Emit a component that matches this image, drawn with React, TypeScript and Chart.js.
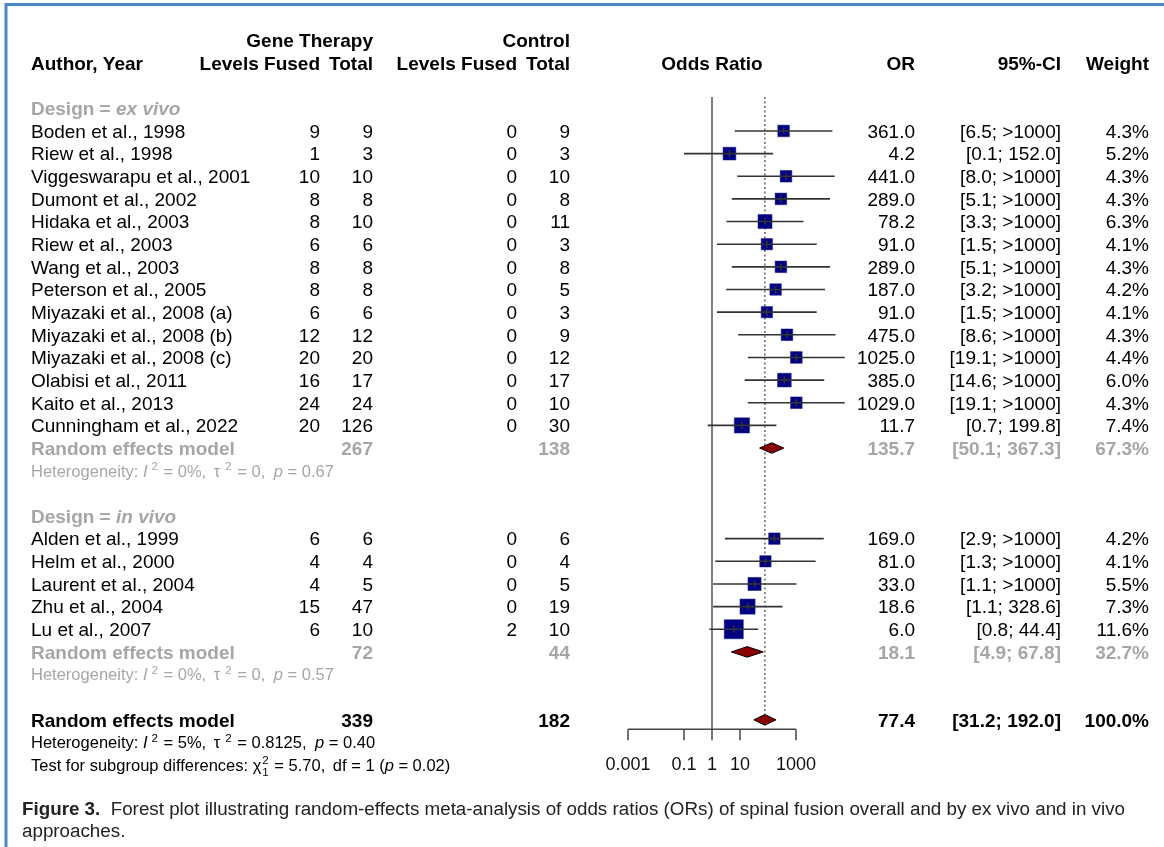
import React, { useEffect, useRef } from 'react';
import { Chart, registerables } from 'chart.js';

Chart.register(...registerables);

// ---- ex vivo studies ----
const exVivoAuthors = [
  'Boden et al., 1998',
  'Riew et al., 1998',
  'Viggeswarapu et al., 2001',
  'Dumont et al., 2002',
  'Hidaka et al., 2003',
  'Riew et al., 2003',
  'Wang et al., 2003',
  'Peterson et al., 2005',
  'Miyazaki et al., 2008 (a)',
  'Miyazaki et al., 2008 (b)',
  'Miyazaki et al., 2008 (c)',
  'Olabisi et al., 2011',
  'Kaito et al., 2013',
  'Cunningham et al., 2022',
];
const exVivoGeneFused = [9, 1, 10, 8, 8, 6, 8, 8, 6, 12, 20, 16, 24, 20];
const exVivoGeneTotal = [9, 3, 10, 8, 10, 6, 8, 8, 6, 12, 20, 17, 24, 126];
const exVivoCtrlFused = [0, 0, 0, 0, 0, 0, 0, 0, 0, 0, 0, 0, 0, 0];
const exVivoCtrlTotal = [9, 3, 10, 8, 11, 3, 8, 5, 3, 9, 12, 17, 10, 30];
const exVivoOR = [361.0, 4.2, 441.0, 289.0, 78.2, 91.0, 289.0, 187.0, 91.0, 475.0, 1025.0, 385.0, 1029.0, 11.7];
const exVivoLower = [6.5, 0.1, 8.0, 5.1, 3.3, 1.5, 5.1, 3.2, 1.5, 8.6, 19.1, 14.6, 19.1, 0.7];
const exVivoUpper = [20000, 152.0, 24000, 16400, 1850, 5500, 16400, 10900, 5500, 26000, 55000, 10200, 55000, 199.8];
const exVivoWeight = [4.3, 5.2, 4.3, 4.3, 6.3, 4.1, 4.3, 4.2, 4.1, 4.3, 4.4, 6.0, 4.3, 7.4];

// ---- in vivo studies ----
const inVivoAuthors = [
  'Alden et al., 1999',
  'Helm et al., 2000',
  'Laurent et al., 2004',
  'Zhu et al., 2004',
  'Lu et al., 2007',
];
const inVivoGeneFused = [6, 4, 4, 15, 6];
const inVivoGeneTotal = [6, 4, 5, 47, 10];
const inVivoCtrlFused = [0, 0, 0, 0, 2];
const inVivoCtrlTotal = [6, 4, 5, 19, 10];
const inVivoOR = [169.0, 81.0, 33.0, 18.6, 6.0];
const inVivoLower = [2.9, 1.3, 1.1, 1.1, 0.8];
const inVivoUpper = [9800, 5000, 1040, 328.6, 44.4];
const inVivoWeight = [4.2, 4.1, 5.5, 7.3, 11.6];

// ---- pooled estimates (random effects) ----
const subgroupNames = ['ex vivo', 'in vivo'];
const subgroupOR = [135.7, 18.1];
const subgroupLower = [50.1, 4.9];
const subgroupUpper = [367.3, 67.8];
const subgroupWeight = [67.3, 32.7];
const subgroupI2 = ['0', '0'];
const subgroupTau2 = ['0', '0'];
const subgroupP = ['0.67', '0.57'];

const overallOR = 77.4;
const overallLower = 31.2;
const overallUpper = 192.0;
const overallWeight = 100.0;
const overallI2 = '5';
const overallTau2 = '0.8125';
const overallP = '0.40';

const testChi2 = '5.70';
const testDf = '1';
const testP = '0.02';

// ---- axis ----
const axisTicks = [0.001, 0.1, 1, 10, 1000];
const axisTickLabels = ['0.001', '0.1', '1', '10', '1000'];

// ---- caption ----
const captionLead = 'Figure 3.';
const captionLine1 =
  '  Forest plot illustrating random-effects meta-analysis of odds ratios (ORs) of spinal fusion overall and by ex vivo and in vivo';
const captionLine2 = 'approaches.';

// ---- layout ----
const W = 1164;
const H = 847;
const ROW0_PX = 108.3;
const ROW_PX = 22.65;
const AXIS_ROW = 27.42;
const TICK_LABEL_ROW = 28.93;
const TICK_LEN = 11;
const DIAMOND_HALF = 5.3;

const FAMILY = '"Liberation Sans", Arial, Helvetica, sans-serif';
const BLACK = '#000000';
const GREY = '#a6a6a6';
const MAIN = 19;
const SMALL = 16.5;
const TICK = 18;

const COL_LABEL = 31;
const COL_GENE_FUSED = 320;
const COL_GENE_TOTAL = 373;
const COL_CTRL_FUSED = 517;
const COL_CTRL_TOTAL = 570;
const COL_OR = 915;
const COL_CI = 1061;
const COL_WEIGHT = 1149;

const CAPTION_X = 22;
const CAPTION_RIGHT = 1126;
const CAPTION_Y1 = 808;
const CAPTION_Y2 = 830;
const CAPTION_BASE_SIZE = 16;

type Study = {
  author: string; gf: number; gt: number; cf: number; ct: number;
  or: number; lo: number; hi: number; w: number; row: number;
};
type Group = {
  name: string; headerRow: number; studies: Study[]; pooledRow: number; hetRow: number;
  or: number; lo: number; hi: number; w: number; i2: string; tau2: string; p: string;
};

function buildGroup(
  name: string, startRow: number, authors: string[], gf: number[], gt: number[], cf: number[], ct: number[],
  or: number[], lo: number[], hi: number[], w: number[], k: number,
): Group {
  const studies = authors.map((a, i) => ({
    author: a, gf: gf[i], gt: gt[i], cf: cf[i], ct: ct[i], or: or[i], lo: lo[i], hi: hi[i], w: w[i], row: startRow + 1 + i,
  }));
  return {
    name, headerRow: startRow, studies,
    pooledRow: startRow + 1 + authors.length,
    hetRow: startRow + 2 + authors.length,
    or: subgroupOR[k], lo: subgroupLower[k], hi: subgroupUpper[k], w: subgroupWeight[k],
    i2: subgroupI2[k], tau2: subgroupTau2[k], p: subgroupP[k],
  };
}

const groupA = buildGroup(subgroupNames[0], 0, exVivoAuthors, exVivoGeneFused, exVivoGeneTotal, exVivoCtrlFused,
  exVivoCtrlTotal, exVivoOR, exVivoLower, exVivoUpper, exVivoWeight, 0);
const groupB = buildGroup(subgroupNames[1], groupA.hetRow + 2, inVivoAuthors, inVivoGeneFused, inVivoGeneTotal,
  inVivoCtrlFused, inVivoCtrlTotal, inVivoOR, inVivoLower, inVivoUpper, inVivoWeight, 1);
const groups = [groupA, groupB];
const overallRow = groupB.hetRow + 2;
const overallHetRow = overallRow + 1;
const testRow = overallRow + 2;
const allStudies = groups.flatMap((g) => g.studies);

const sum = (a: number[]) => a.reduce((s, v) => s + v, 0);

const fmtOR = (v: number) => v.toFixed(1);
const fmtCI = (lo: number, hi: number) => `[${lo.toFixed(1)}; ${hi > 1000 ? '>1000' : hi.toFixed(1)}]`;
const fmtW = (w: number) => `${w.toFixed(1)}%`;

// square area proportional to the study weight
const squareSide = (w: number) => 5.6 * Math.sqrt(w);

// ---- text helpers ----
function font(size: number, bold = false, italic = false) {
  return `${italic ? 'italic ' : ''}${bold ? 'bold ' : ''}${size}px ${FAMILY}`;
}

type Seg = { t?: string; b?: boolean; i?: boolean; sup?: string; sub?: string; gap?: number };

function segWidth(ctx: CanvasRenderingContext2D, s: Seg, size: number) {
  if (s.sup !== undefined || s.sub !== undefined) {
    ctx.font = font(size * 0.7);
    const w = Math.max(s.sup ? ctx.measureText(s.sup).width : 0, s.sub ? ctx.measureText(s.sub).width : 0);
    return w + (s.gap || 0) + 1;
  }
  if (s.t === undefined) return s.gap || 0;
  ctx.font = font(size, s.b, s.i);
  return ctx.measureText(s.t).width;
}

function drawRich(
  ctx: CanvasRenderingContext2D, segs: Seg[], x: number, yc: number, size: number, color: string,
  align: 'left' | 'right' | 'center' = 'left',
) {
  const widths = segs.map((s) => segWidth(ctx, s, size));
  const total = sum(widths);
  let cx = align === 'right' ? x - total : align === 'center' ? x - total / 2 : x;
  const base = yc + size * 0.36;
  ctx.textAlign = 'left';
  ctx.textBaseline = 'alphabetic';
  ctx.fillStyle = color;
  segs.forEach((s, k) => {
    if (s.sup !== undefined || s.sub !== undefined) {
      ctx.font = font(size * 0.7);
      const gx = cx + (s.gap || 0);
      if (s.sup) ctx.fillText(s.sup, gx, base - size * 0.42);
      if (s.sub) ctx.fillText(s.sub, gx, base + size * 0.3);
    } else if (s.t !== undefined) {
      ctx.font = font(size, s.b, s.i);
      ctx.fillText(s.t, cx, base);
    }
    cx += widths[k];
  });
}

function drawText(
  ctx: CanvasRenderingContext2D, text: string, x: number, yc: number, size: number, color: string,
  align: 'left' | 'right' | 'center' = 'left', bold = false, italic = false,
) {
  drawRich(ctx, [{ t: text, b: bold, i: italic }], x, yc, size, color, align);
}

const hetSegs = (i2: string, tau2: string, p: string): Seg[] => [
  { t: 'Heterogeneity: ' }, { t: 'I', i: true }, { sup: '2', gap: 4 }, { t: ` = ${i2}%,` }, { gap: 3 }, { t: ' τ' },
  { sup: '2', gap: 5 }, { t: ` = ${tau2},` }, { gap: 4 }, { t: ' ' }, { t: 'p', i: true }, { t: ` = ${p}` },
];

const testSegs = (): Seg[] => [
  { t: 'Test for subgroup differences: ' }, { t: 'χ' }, { sup: '2', sub: testDf, gap: 1 },
  { t: ` = ${testChi2},` }, { gap: 3 }, { t: ` df = ${testDf} (` }, { t: 'p', i: true }, { t: ` = ${testP})` },
];

const forestPlugin = {
  id: 'forest',
  beforeDatasetsDraw(chart: any) {
    const { ctx } = chart;
    const xs = chart.scales.x;
    const ys = chart.scales.y;
    const top = ys.getPixelForValue(-0.5);
    const axisY = ys.getPixelForValue(AXIS_ROW);
    ctx.save();
    // line of no effect
    const x1 = xs.getPixelForValue(1);
    ctx.strokeStyle = '#555555';
    ctx.lineWidth = 1.5;
    ctx.beginPath();
    ctx.moveTo(x1, top);
    ctx.lineTo(x1, axisY);
    ctx.stroke();
    // overall pooled estimate
    const xo = xs.getPixelForValue(overallOR);
    ctx.setLineDash([2, 2.5]);
    ctx.strokeStyle = '#666666';
    ctx.beginPath();
    ctx.moveTo(xo, top);
    ctx.lineTo(xo, ys.getPixelForValue(overallRow) - DIAMOND_HALF);
    ctx.stroke();
    ctx.restore();
  },
  afterDatasetsDraw(chart: any) {
    const { ctx } = chart;
    const xs = chart.scales.x;
    const ys = chart.scales.y;
    ctx.save();
    // confidence intervals
    ctx.strokeStyle = '#333333';
    ctx.lineWidth = 1.6;
    allStudies.forEach((s) => {
      const y = ys.getPixelForValue(s.row);
      ctx.beginPath();
      ctx.moveTo(xs.getPixelForValue(s.lo), y);
      ctx.lineTo(xs.getPixelForValue(s.hi), y);
      ctx.stroke();
      const xe = xs.getPixelForValue(s.or);
      ctx.beginPath();
      ctx.moveTo(xe, y - 3.5);
      ctx.lineTo(xe, y + 3.5);
      ctx.stroke();
    });
    // pooled diamonds
    const diamond = (or: number, lo: number, hi: number, row: number) => {
      const y = ys.getPixelForValue(row);
      ctx.beginPath();
      ctx.moveTo(xs.getPixelForValue(lo), y);
      ctx.lineTo(xs.getPixelForValue(or), y - DIAMOND_HALF);
      ctx.lineTo(xs.getPixelForValue(hi), y);
      ctx.lineTo(xs.getPixelForValue(or), y + DIAMOND_HALF);
      ctx.closePath();
      ctx.fillStyle = '#8b0000';
      ctx.fill();
      ctx.strokeStyle = '#000000';
      ctx.lineWidth = 1;
      ctx.stroke();
    };
    groups.forEach((g) => diamond(g.or, g.lo, g.hi, g.pooledRow));
    diamond(overallOR, overallLower, overallUpper, overallRow);
    // x axis
    const axisY = ys.getPixelForValue(AXIS_ROW);
    ctx.strokeStyle = '#444444';
    ctx.lineWidth = 1.5;
    ctx.beginPath();
    ctx.moveTo(xs.getPixelForValue(axisTicks[0]), axisY);
    ctx.lineTo(xs.getPixelForValue(axisTicks[axisTicks.length - 1]), axisY);
    axisTicks.forEach((t) => {
      const x = xs.getPixelForValue(t);
      ctx.moveTo(x, axisY);
      ctx.lineTo(x, axisY + TICK_LEN);
    });
    ctx.stroke();
    axisTicks.forEach((t, k) => {
      drawText(ctx, axisTickLabels[k], xs.getPixelForValue(t), ys.getPixelForValue(TICK_LABEL_ROW), TICK, '#111111', 'center');
    });
    ctx.restore();
  },
  afterDraw(chart: any) {
    const { ctx } = chart;
    const xs = chart.scales.x;
    const ys = chart.scales.y;
    const yr = (r: number) => ys.getPixelForValue(r);
    ctx.save();

    // column headers
    drawText(ctx, 'Gene Therapy', COL_GENE_TOTAL, yr(-3), MAIN, BLACK, 'right', true);
    drawText(ctx, 'Control', COL_CTRL_TOTAL, yr(-3), MAIN, BLACK, 'right', true);
    drawText(ctx, 'Author, Year', COL_LABEL, yr(-2), MAIN, BLACK, 'left', true);
    drawText(ctx, 'Levels Fused', COL_GENE_FUSED, yr(-2), MAIN, BLACK, 'right', true);
    drawText(ctx, 'Total', COL_GENE_TOTAL, yr(-2), MAIN, BLACK, 'right', true);
    drawText(ctx, 'Levels Fused', COL_CTRL_FUSED, yr(-2), MAIN, BLACK, 'right', true);
    drawText(ctx, 'Total', COL_CTRL_TOTAL, yr(-2), MAIN, BLACK, 'right', true);
    drawText(ctx, 'Odds Ratio', xs.getPixelForValue(1), yr(-2), MAIN, BLACK, 'center', true);
    drawText(ctx, 'OR', COL_OR, yr(-2), MAIN, BLACK, 'right', true);
    drawText(ctx, '95%-CI', COL_CI, yr(-2), MAIN, BLACK, 'right', true);
    drawText(ctx, 'Weight', COL_WEIGHT, yr(-2), MAIN, BLACK, 'right', true);

    groups.forEach((g) => {
      drawRich(ctx, [{ t: 'Design = ', b: true }, { t: g.name, b: true, i: true }], COL_LABEL, yr(g.headerRow), MAIN, GREY);
      g.studies.forEach((s) => {
        const y = yr(s.row);
        drawText(ctx, s.author, COL_LABEL, y, MAIN, BLACK);
        drawText(ctx, String(s.gf), COL_GENE_FUSED, y, MAIN, BLACK, 'right');
        drawText(ctx, String(s.gt), COL_GENE_TOTAL, y, MAIN, BLACK, 'right');
        drawText(ctx, String(s.cf), COL_CTRL_FUSED, y, MAIN, BLACK, 'right');
        drawText(ctx, String(s.ct), COL_CTRL_TOTAL, y, MAIN, BLACK, 'right');
        drawText(ctx, fmtOR(s.or), COL_OR, y, MAIN, BLACK, 'right');
        drawText(ctx, fmtCI(s.lo, s.hi), COL_CI, y, MAIN, BLACK, 'right');
        drawText(ctx, fmtW(s.w), COL_WEIGHT, y, MAIN, BLACK, 'right');
      });
      const py = yr(g.pooledRow);
      drawText(ctx, 'Random effects model', COL_LABEL, py, MAIN, GREY, 'left', true);
      drawText(ctx, String(sum(g.studies.map((s) => s.gt))), COL_GENE_TOTAL, py, MAIN, GREY, 'right', true);
      drawText(ctx, String(sum(g.studies.map((s) => s.ct))), COL_CTRL_TOTAL, py, MAIN, GREY, 'right', true);
      drawText(ctx, fmtOR(g.or), COL_OR, py, MAIN, GREY, 'right', true);
      drawText(ctx, fmtCI(g.lo, g.hi), COL_CI, py, MAIN, GREY, 'right', true);
      drawText(ctx, fmtW(g.w), COL_WEIGHT, py, MAIN, GREY, 'right', true);
      drawRich(ctx, hetSegs(g.i2, g.tau2, g.p), COL_LABEL, yr(g.hetRow), SMALL, GREY);
    });

    const oy = yr(overallRow);
    drawText(ctx, 'Random effects model', COL_LABEL, oy, MAIN, BLACK, 'left', true);
    drawText(ctx, String(sum(allStudies.map((s) => s.gt))), COL_GENE_TOTAL, oy, MAIN, BLACK, 'right', true);
    drawText(ctx, String(sum(allStudies.map((s) => s.ct))), COL_CTRL_TOTAL, oy, MAIN, BLACK, 'right', true);
    drawText(ctx, fmtOR(overallOR), COL_OR, oy, MAIN, BLACK, 'right', true);
    drawText(ctx, fmtCI(overallLower, overallUpper), COL_CI, oy, MAIN, BLACK, 'right', true);
    drawText(ctx, fmtW(overallWeight), COL_WEIGHT, oy, MAIN, BLACK, 'right', true);
    drawRich(ctx, hetSegs(overallI2, overallTau2, overallP), COL_LABEL, yr(overallHetRow), SMALL, BLACK);
    drawRich(ctx, testSegs(), COL_LABEL, yr(testRow), SMALL, BLACK);

    // figure caption, sized so its first line fills the text width
    const capSegs: Seg[] = [{ t: captionLead, b: true }, { t: captionLine1 }];
    const natural = sum(capSegs.map((s) => segWidth(ctx, s, CAPTION_BASE_SIZE)));
    const capSize = (CAPTION_BASE_SIZE * (CAPTION_RIGHT - CAPTION_X)) / natural;
    drawRich(ctx, capSegs, CAPTION_X, CAPTION_Y1, capSize, '#222222');
    drawText(ctx, captionLine2, CAPTION_X, CAPTION_Y2, capSize, '#222222');

    // page frame
    ctx.strokeStyle = '#4a86c8';
    ctx.lineWidth = 3;
    ctx.beginPath();
    ctx.moveTo(6, H);
    ctx.lineTo(6, 4.5);
    ctx.lineTo(W, 4.5);
    ctx.stroke();
    ctx.restore();
  },
};

export default function App() {
  const canvasRef = useRef<HTMLCanvasElement>(null);

  useEffect(() => {
    const canvas = canvasRef.current;
    if (!canvas) return;
    const yMin = -ROW0_PX / ROW_PX;
    const yMax = yMin + H / ROW_PX;
    const chart = new Chart(canvas, {
      type: 'scatter',
      data: {
        datasets: [
          {
            label: 'Studies',
            data: allStudies.map((s) => ({ x: s.or, y: s.row })),
            pointStyle: 'rect',
            pointRadius: allStudies.map((s) => squareSide(s.w) / Math.SQRT2),
            pointHoverRadius: allStudies.map((s) => squareSide(s.w) / Math.SQRT2),
            backgroundColor: '#000080',
            borderColor: '#1a1a8c',
            borderWidth: 0.5,
          },
        ],
      },
      options: {
        animation: false,
        responsive: false,
        events: [],
        layout: { autoPadding: false, padding: { left: 600, right: 312, top: 0, bottom: 0 } },
        plugins: { legend: { display: false }, tooltip: { enabled: false } },
        scales: {
          x: { type: 'logarithmic', min: 1e-4, max: 1e5, bounds: 'data', display: false },
          y: { type: 'linear', min: yMin, max: yMax, reverse: true, bounds: 'data', display: false },
        },
      },
      plugins: [forestPlugin],
    } as any);
    return () => chart.destroy();
  }, []);

  return (
    <div style={{ position: 'absolute', left: 0, top: 0, width: W, height: H, background: '#ffffff' }}>
      <canvas ref={canvasRef} width={W} height={H} style={{ display: 'block', width: W, height: H }} />
    </div>
  );
}
